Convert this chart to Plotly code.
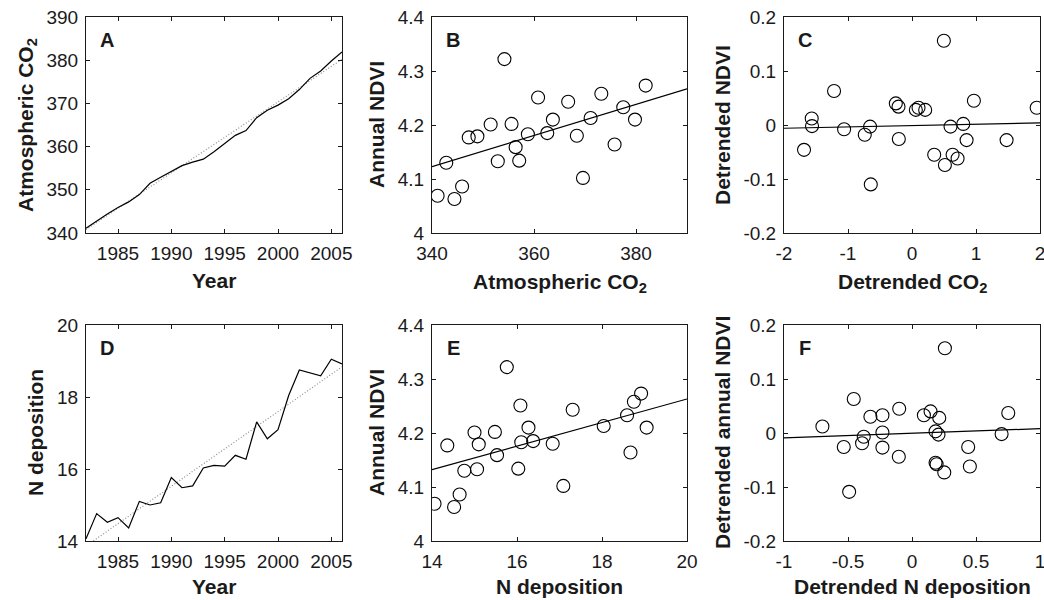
import plotly.graph_objects as go

# ---------------- data ----------------
years = list(range(1982, 2007))
co2 = [341.1, 342.8, 344.4, 345.9, 347.2, 348.9, 351.5, 352.9, 354.2, 355.6, 356.4, 357.1,
       358.8, 360.8, 362.6, 363.7, 366.7, 368.4, 369.6, 371.1, 373.2, 375.8, 377.5, 379.8, 381.9]
ndep = [14.06, 14.76, 14.52, 14.65, 14.36, 15.10, 15.00, 15.06, 15.76, 15.48, 15.53, 16.03,
        16.10, 16.08, 16.38, 16.27, 17.31, 16.84, 17.09, 18.04, 18.75, 18.67, 18.59, 19.05, 18.92]
ndvi = [4.069, 4.130, 4.063, 4.086, 4.177, 4.179, 4.201, 4.133, 4.322, 4.202, 4.159, 4.134,
        4.183, 4.251, 4.185, 4.210, 4.243, 4.180, 4.102, 4.213, 4.258, 4.164, 4.233, 4.210, 4.273]

det_co2 = [-1.687, -1.567, -1.562, -1.218, -1.061, -0.738, -0.655, -0.644, -0.253, -0.211, -0.206,
           0.060, 0.102, 0.206, 0.347, 0.498, 0.514, 0.602, 0.634, 0.712, 0.801, 0.853, 0.967,
           1.478, 1.948]
det_ndvi_c = [-0.046, 0.012, -0.002, 0.063, -0.008, -0.018, -0.003, -0.110, 0.040, 0.034, -0.026,
              0.028, 0.032, 0.028, -0.055, 0.156, -0.074, -0.003, -0.055, -0.062, 0.002, -0.028,
              0.045, -0.028, 0.032]

det_ndep = [-0.700, -0.533, -0.491, -0.455, -0.390, -0.377, -0.325, -0.231, -0.231, -0.231, -0.100,
            -0.103, 0.093, 0.145, 0.184, 0.184, 0.192, 0.213, 0.207, 0.252, 0.257, 0.439, 0.452,
            0.700, 0.752]
det_ndvi_f = [0.012, -0.026, -0.109, 0.063, -0.019, -0.007, 0.030, 0.033, 0.001, -0.027, 0.045,
              -0.044, 0.033, 0.040, 0.003, -0.055, -0.058, 0.028, -0.003, -0.073, 0.157, -0.026,
              -0.062, -0.002, 0.037]

# trend / fit lines (endpoints)
trend_years = [1982, 2006]
co2_trend = [340.8, 380.2]
ndep_trend = [13.86, 18.84]
fit_b_x = [340, 390]
fit_b_y = [4.123, 4.267]
fit_c_x = [-2, 2]
fit_c_y = [-0.006, 0.004]
fit_e_x = [14, 20]
fit_e_y = [4.132, 4.263]
fit_f_x = [-1, 1]
fit_f_y = [-0.009, 0.008]

# ticks
year_ticks = [1985, 1990, 1995, 2000, 2005]
co2_yticks = [340, 350, 360, 370, 380, 390]
co2_xticks = [340, 360, 380]
ndvi_ticks = [4.0, 4.1, 4.2, 4.3, 4.4]
ndvi_ticktext = ["4", "4.1", "4.2", "4.3", "4.4"]
det_yticks = [-0.2, -0.1, 0, 0.1, 0.2]
det_yticktext = ["-0.2", "-0.1", "0", "0.1", "0.2"]
det_co2_ticks = [-2, -1, 0, 1, 2]
det_co2_ticktext = ["-2", "-1", "0", "1", "2"]
ndep_ticks = [14, 16, 18, 20]
det_ndep_ticks = [-1, -0.5, 0, 0.5, 1]
det_ndep_ticktext = ["-1", "-0.5", "0", "0.5", "1"]

panel_letters = ["A", "B", "C", "D", "E", "F"]
x_titles = ["Year", "Atmospheric CO<sub>2</sub>", "Detrended CO<sub>2</sub>",
            "Year", "N deposition", "Detrended N deposition"]
y_titles = ["Atmospheric CO<sub>2</sub>", "Annual NDVI", "Detrended NDVI",
            "N deposition", "Annual NDVI", "Detrended annual NDVI"]

# ---------------- figure ----------------
W, H = 1044, 600
FONT = "Liberation Sans, Arial, sans-serif"
INK = "#1a1a1a"

fig = go.Figure()

line_style = dict(color="black", width=1.2)
trend_style = dict(color="#8f8f8f", width=1.2, dash="1px,2px")
marker_style = dict(symbol="circle-open", size=13, color="black", line=dict(width=1.1, color="black"))

# A
fig.add_trace(go.Scatter(x=trend_years, y=co2_trend, mode="lines", line=trend_style, xaxis="x", yaxis="y"))
fig.add_trace(go.Scatter(x=years, y=co2, mode="lines", line=line_style, xaxis="x", yaxis="y"))
# B
fig.add_trace(go.Scatter(x=co2, y=ndvi, mode="markers", marker=marker_style, xaxis="x2", yaxis="y2"))
fig.add_trace(go.Scatter(x=fit_b_x, y=fit_b_y, mode="lines", line=line_style, xaxis="x2", yaxis="y2"))
# C
fig.add_trace(go.Scatter(x=det_co2, y=det_ndvi_c, mode="markers", marker=marker_style, xaxis="x3", yaxis="y3"))
fig.add_trace(go.Scatter(x=fit_c_x, y=fit_c_y, mode="lines", line=line_style, xaxis="x3", yaxis="y3"))
# D
fig.add_trace(go.Scatter(x=trend_years, y=ndep_trend, mode="lines", line=trend_style, xaxis="x4", yaxis="y4"))
fig.add_trace(go.Scatter(x=years, y=ndep, mode="lines", line=line_style, xaxis="x4", yaxis="y4"))
# E
fig.add_trace(go.Scatter(x=ndep, y=ndvi, mode="markers", marker=marker_style, xaxis="x5", yaxis="y5"))
fig.add_trace(go.Scatter(x=fit_e_x, y=fit_e_y, mode="lines", line=line_style, xaxis="x5", yaxis="y5"))
# F
fig.add_trace(go.Scatter(x=det_ndep, y=det_ndvi_f, mode="markers", marker=marker_style, xaxis="x6", yaxis="y6"))
fig.add_trace(go.Scatter(x=fit_f_x, y=fit_f_y, mode="lines", line=line_style, xaxis="x6", yaxis="y6"))

# plot-area pixel boxes (left, right, top, bottom)
boxes = [(86, 342, 17, 233), (432, 687, 17, 233), (784, 1040, 17, 233),
         (86, 342, 325, 541), (432, 687, 325, 541), (784, 1040, 325, 541)]

xcfg = [
    dict(range=[1982, 2006], tickvals=year_ticks),
    dict(range=[340, 390], tickvals=co2_xticks),
    dict(range=[-2, 2], tickvals=det_co2_ticks, ticktext=det_co2_ticktext),
    dict(range=[1982, 2006], tickvals=year_ticks),
    dict(range=[14, 20], tickvals=ndep_ticks),
    dict(range=[-1, 1], tickvals=det_ndep_ticks, ticktext=det_ndep_ticktext),
]
ycfg = [
    dict(range=[340, 390], tickvals=co2_yticks),
    dict(range=[4.0, 4.4], tickvals=ndvi_ticks, ticktext=ndvi_ticktext),
    dict(range=[-0.2, 0.2], tickvals=det_yticks, ticktext=det_yticktext),
    dict(range=[14, 20], tickvals=ndep_ticks),
    dict(range=[4.0, 4.4], tickvals=ndvi_ticks, ticktext=ndvi_ticktext),
    dict(range=[-0.2, 0.2], tickvals=det_yticks, ticktext=det_yticktext),
]

common = dict(showline=True, linecolor=INK, linewidth=1, mirror="ticks", ticks="inside",
              ticklen=4, tickwidth=1, tickcolor=INK, showgrid=False, zeroline=False,
              automargin=False, ticklabeloverflow="allow", ticklabelstandoff=3,
              tickfont=dict(family=FONT, size=19, color=INK), fixedrange=True)

layout = dict(width=W, height=H, margin=dict(l=0, r=0, t=0, b=0), showlegend=False,
              paper_bgcolor="white", plot_bgcolor="white", font=dict(family=FONT, color=INK))

annotations = []
for i, (l, r, t, b) in enumerate(boxes):
    n = "" if i == 0 else str(i + 1)
    xa = dict(common, **xcfg[i], domain=[l / W, r / W], anchor="y" + n)
    ya = dict(common, **ycfg[i], domain=[1 - b / H, 1 - t / H], anchor="x" + n)
    layout["xaxis" + n] = xa
    layout["yaxis" + n] = ya
    cx = (l + r) / 2
    cy = (t + b) / 2
    # panel letter
    annotations.append(dict(text="<b>%s</b>" % panel_letters[i], x=(l + 21) / W, y=1 - (t + 23) / H,
                            xref="paper", yref="paper", xanchor="center", yanchor="middle",
                            showarrow=False, font=dict(family=FONT, size=20, color=INK)))
    # x title
    xt_off = 48 if i < 3 else 45
    sub_x = 2 if "<sub>" in x_titles[i] else 0
    annotations.append(dict(text="<b>%s</b>" % x_titles[i], x=cx / W, y=1 - (b + xt_off + sub_x) / H,
                            xref="paper", yref="paper", xanchor="center", yanchor="middle",
                            showarrow=False, font=dict(family=FONT, size=21, color=INK)))
    # y title
    ytx = [25, 376, 722, 35, 376, 722][i]
    sub_y = 2 if "<sub>" in y_titles[i] else 0
    annotations.append(dict(text="<b>%s</b>" % y_titles[i], x=(ytx + sub_y) / W, y=1 - cy / H,
                            xref="paper", yref="paper", xanchor="center", yanchor="middle",
                            textangle=-90, showarrow=False,
                            font=dict(family=FONT, size=21, color=INK)))

layout["annotations"] = annotations
fig.update_layout(**layout)

fig.write_html("out.html")
